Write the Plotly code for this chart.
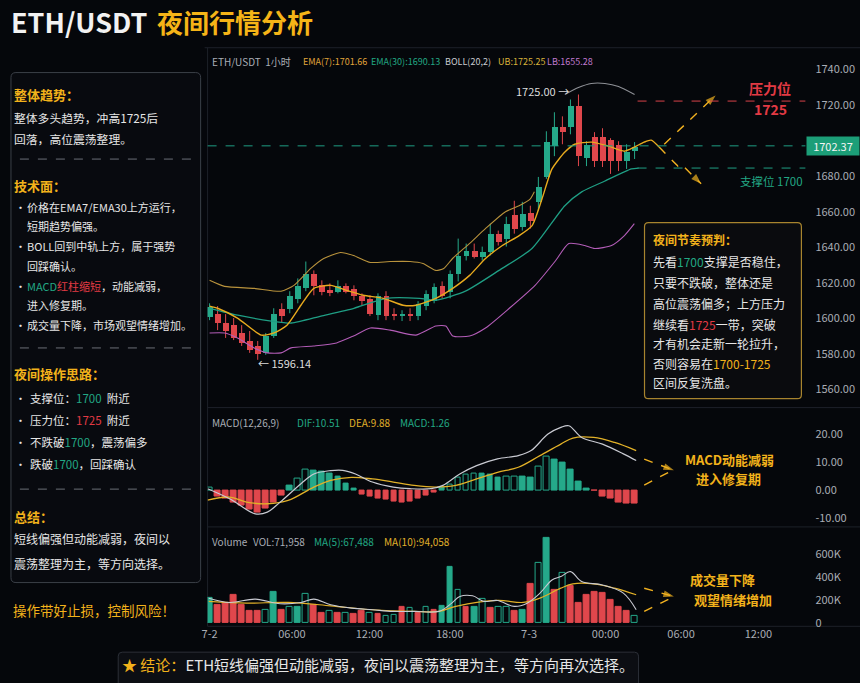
import plotly.graph_objects as go

W, H = 860, 683
BG = "#05070b"
GREEN = "#25a98a"
RED = "#e0474c"
GOLD = "#f2b21b"
TEAL_T = "#22a884"
RED_T = "#e23a44"
GRAY_T = "#a9adb5"
WHITE_T = "#e6e6e6"
FONT = "Noto Sans CJK SC, Noto Sans, sans-serif"

# ---------------- data ----------------
candle_idx = list(range(54))
candle_open = [1600.7, 1602.9, 1597.4, 1596.2, 1591.8, 1587.3, 1584.5, 1580.6, 1590.1, 1605.7,
               1605.7, 1611.3, 1617.5, 1625.3, 1619.2, 1616.4, 1615.3, 1618.6, 1616.9, 1612.5,
               1611.3, 1601.8, 1613.0, 1602.9, 1601.3, 1602.9, 1601.3, 1606.9, 1610.2, 1618.6,
               1615.3, 1625.3, 1635.4, 1638.2, 1634.8, 1637.6, 1647.7, 1644.9, 1658.3, 1651.6,
               1659.4, 1665.6, 1679.6, 1696.9, 1707.6, 1707.6, 1719.9, 1690.2, 1702.0, 1702.5,
               1700.3, 1697.5, 1688.5, 1694.1]
candle_high = [1608.5, 1606.9, 1602.4, 1600.2, 1596.2, 1592.9, 1587.3, 1591.8, 1605.7, 1608.5,
               1615.3, 1622.5, 1632.0, 1627.0, 1621.4, 1619.7, 1621.4, 1619.7, 1618.6, 1614.1,
               1613.0, 1614.1, 1615.3, 1605.7, 1604.6, 1605.7, 1609.7, 1615.8, 1619.7, 1620.8,
               1627.0, 1644.9, 1642.1, 1642.1, 1640.4, 1653.3, 1649.4, 1657.2, 1666.2, 1665.6,
               1663.4, 1679.6, 1705.3, 1716.0, 1713.7, 1723.2, 1726.0, 1699.7, 1704.8, 1707.0,
               1701.4, 1699.7, 1698.0, 1699.2]
candle_low = [1599.0, 1593.4, 1589.0, 1587.8, 1584.5, 1580.6, 1576.7, 1579.5, 1589.0, 1597.4,
              1602.9, 1608.5, 1615.3, 1613.0, 1613.0, 1612.5, 1614.1, 1614.1, 1610.2, 1607.4,
              1601.3, 1599.0, 1599.0, 1599.0, 1598.5, 1598.5, 1599.0, 1604.6, 1608.5, 1611.3,
              1611.3, 1620.8, 1632.6, 1633.7, 1632.6, 1635.4, 1641.0, 1640.4, 1647.7, 1649.4,
              1650.5, 1660.6, 1678.5, 1691.3, 1698.0, 1703.6, 1685.7, 1685.7, 1685.2, 1685.2,
              1681.3, 1682.9, 1684.1, 1689.7]
candle_close = [1606.3, 1597.4, 1592.9, 1589.0, 1586.2, 1582.3, 1580.0, 1590.1, 1602.9, 1601.3,
                1612.5, 1618.6, 1625.3, 1618.6, 1615.3, 1614.7, 1618.6, 1615.3, 1612.5, 1609.7,
                1602.9, 1612.5, 1601.3, 1601.3, 1602.9, 1601.3, 1608.5, 1614.1, 1618.0, 1613.0,
                1625.3, 1635.4, 1638.2, 1634.8, 1637.6, 1647.7, 1643.2, 1653.3, 1650.5, 1658.9,
                1655.0, 1674.0, 1699.2, 1707.6, 1705.3, 1719.9, 1691.3, 1697.5, 1688.5, 1688.5,
                1688.5, 1688.5, 1693.6, 1696.4]

ema7_x = [0, 0.99, 3.47, 6.44, 8.04, 9.65, 11.39, 13.0, 15.1, 17.08, 19.18, 21.66, 24.13, 25.74,
          28.22, 30.32, 32.43, 34.41, 36.51, 38.61, 40.22, 41.46, 42.70, 44.31, 45.54, 47.65,
          49.75, 51.73, 52.97, 54.2, 55.07, 56.06]
ema7_y = [1606.9, 1605.7, 1600.2, 1590.6, 1591.8, 1596.2, 1607.4, 1616.9, 1618.6, 1615.8, 1613.0,
          1611.3, 1607.4, 1607.4, 1611.3, 1616.9, 1624.2, 1633.7, 1641.0, 1646.6, 1652.2, 1667.3,
          1684.1, 1693.6, 1698.0, 1699.2, 1696.9, 1694.1, 1696.4, 1699.2, 1700.3, 1696.4]

ema30_x = [0, 3.5, 7.7, 10.2, 13.9, 18.0, 22.0, 26.2, 28.2, 31.9, 36.1, 40.2, 44.3, 46.4, 49.3, 52.6, 53.5]
ema30_y = [1605.7, 1601.8, 1598.5, 1597.4, 1601.3, 1605.7, 1611.3, 1611.3, 1610.2, 1615.3, 1627.0,
           1639.3, 1663.4, 1671.2, 1677.3, 1684.1, 1684.6]

ub_x = [0, 1.86, 5.57, 8.91, 10.52, 12.62, 14.23, 16.34, 17.95, 20.05, 22.52, 25.0, 26.61, 28.22,
        29.2, 30.3, 32.4, 34.4, 36.9, 38.6, 40.0, 40.5]
ub_y = [1621.4, 1618.0, 1616.9, 1615.3, 1618.6, 1628.1, 1633.7, 1637.1, 1635.4, 1631.5, 1632.0,
        1632.0, 1630.9, 1627.0, 1628.1, 1633.7, 1642.1, 1650.5, 1660.0, 1663.4, 1667.3, 1671.2]
ub_top_x = [44.3, 46.0, 47.6, 49.3, 51.0, 53.0]
ub_top_y = [1726.0, 1729.9, 1732.2, 1732.2, 1730.5, 1726.0]

lb_x = [0, 1.86, 3.47, 5.57, 7.18, 8.91, 10.15, 13.0, 15.84, 17.95, 20.05, 22.52, 25.74, 28.22,
        29.46, 30.32, 32.43, 34.41, 37.38, 40.59, 43.07, 44.8, 46.78, 48.02, 50.12, 51.73, 52.97]
lb_y = [1591.8, 1591.8, 1589.0, 1583.4, 1580.6, 1580.6, 1583.4, 1584.5, 1586.2, 1590.1, 1594.6,
        1593.4, 1590.6, 1595.7, 1595.7, 1590.1, 1590.1, 1594.6, 1605.7, 1618.6, 1632.0, 1642.1,
        1641.0, 1639.3, 1641.0, 1646.6, 1653.3]

# forecast path (price panel)
up_path_x = [56.7, 63.1]
up_path_y = [1698.0, 1725.5]
down_path_x = [56.06, 58.4, 58.8, 61.3]
down_path_y = [1696.4, 1685.7, 1686.9, 1675.7]

# key levels (as placed on the picture)
last_price_level = 1697.1
last_price_text = "1702.37"
resistance_level = 1722.3
support_level = 1684.6

macd_hist = [1.0, -2.4, -3.0, -4.5, -5.5, -7.0, -8.0, -6.5, -4.5, -2.0,
             1.5, 4.0, 7.5, 7.0, 6.5, 6.0, 5.0, 2.5, 0.5, -1.5,
             -2.5, -3.0, -3.5, -4.0, -4.5, -4.0, -3.0, -2.0, -0.8, 0.8,
             2.0, 4.5, 5.5, 6.0, 6.0, 5.5, 4.5, 4.8, 5.0, 5.0,
             4.5, 8.5, 12.0, 11.0, 10.0, 7.5, 3.0, 0.5, -0.3, -2.5,
             -3.0, -4.5, -5.0, -5.0]
dif_x = [-0.25, 2.5, 5.7, 7.2, 8.8, 11.4, 13.0, 15.1, 16.6, 18.2, 20.3, 22.9, 25.0, 27.6, 29.1,
         31.2, 33.3, 35.9, 38.5, 40.1, 42.2, 43.8, 44.8, 46.4, 49.0, 51.6, 53.2]
dif_y = [0.5, -3.1, -8.5, -7.9, -4.3, 2.3, 5.8, 7.0, 7.1, 5.8, 2.9, 1.1, 0.5, 0.5, 1.7,
         5.8, 8.8, 11.2, 12.4, 14.2, 20.1, 22.5, 23.1, 18.9, 16.5, 13.0, 10.6]
dea_x = [-0.25, 2.5, 4.6, 7.2, 9.8, 13.0, 15.1, 17.7, 20.3, 22.9, 25.5, 28.1, 30.7, 33.3, 35.9,
         38.5, 41.2, 43.8, 45.3, 47.9, 50.5, 53.2]
dea_y = [-3.6, -2.5, -4.3, -4.9, -3.7, 1.1, 3.5, 4.6, 4.0, 2.9, 1.7, 1.1, 1.7, 4.0, 6.4,
         8.2, 12.4, 16.5, 18.7, 18.9, 17.1, 14.2]

vol_k = [223, 160, 174, 246, 160, 103, 103, 117, 274, 117,
         146, 146, 255, 160, 94, 103, 89, 89, 83, 103,
         89, 83, 66, 74, 146, 131, 89, 146, 117, 154,
         483, 289, 146, 146, 209, 131, 146, 146, 111, 117,
         340, 523, 737, 289, 431, 323, 180, 246, 274, 260,
         203, 146, 103, 66]
vol_up = [1, 0, 0, 0, 0, 0, 0, 1, 1, 0,
          1, 1, 1, 0, 0, 1, 0, 1, 0, 0,
          1, 0, 1, 1, 0, 1, 0, 1, 0, 1,
          1, 1, 0, 1, 1, 0, 1, 1, 0, 1,
          0, 1, 1, 0, 1, 0, 0, 0, 0, 0,
          0, 0, 0, 1]
vol_hollow = [0, 0, 0, 0, 0, 0, 0, 1, 0, 0,
              1, 0, 1, 0, 0, 1, 0, 1, 0, 0,
              1, 0, 1, 1, 0, 1, 0, 1, 0, 0,
              0, 1, 0, 0, 1, 0, 1, 1, 0, 0,
              0, 1, 0, 0, 1, 0, 0, 0, 0, 0,
              0, 0, 0, 1]
ma5_x = [-0.1, 2.5, 5.7, 8.8, 11.4, 13.0, 15.1, 17.7, 20.3, 22.9, 25.5, 28.6, 30.2, 31.2, 32.8,
         34.2, 35.9, 38.0, 39.6, 41.2, 42.7, 43.8, 45.0, 46.4, 49.0, 51.6, 53.2]
ma5_y = [217, 180, 209, 169, 180, 209, 160, 131, 117, 103, 103, 103, 174, 231, 237,
         189, 197, 146, 174, 260, 374, 403, 446, 360, 331, 260, 117]
ma10_x = [-0.1, 4.6, 9.8, 15.1, 20.3, 25.5, 28.6, 30.7, 35.9, 39.1, 41.2, 43.8, 45.3, 47.9, 50.5, 53.2]
ma10_y = [189, 174, 180, 151, 117, 103, 103, 146, 197, 180, 217, 303, 340, 340, 303, 246]

macd_arrow_top = ([54.2, 57.9], [11.1, 7.1])
macd_arrow_bot = ([54.2, 57.5], [1.8, 6.8])
vol_arrow_top = ([54.2, 57.9], [302, 231])
vol_arrow_bot = ([54.2, 57.5], [103, 217])

time_tick_pos = [0, 10.27, 19.93, 29.95, 39.85, 49.38, 58.79, 68.44]
time_tick_text = ["7-2", "06:00", "12:00", "18:00", "7-3", "00:00", "06:00", "12:00"]
price_ticks = [1560, 1580, 1600, 1620, 1640, 1660, 1680, 1720, 1740]
macd_ticks = [-10, 0, 10, 20]
vol_ticks = [0, 200, 400, 600]
vol_tick_text = ["0", "200K", "400K", "600K"]


def X(x):
    return x / W


def Y(y):
    return 1 - y / H


def rrect(x0, y0, x1, y1, r):
    return (f"M {X(x0 + r)},{Y(y0)} L {X(x1 - r)},{Y(y0)} Q {X(x1)},{Y(y0)} {X(x1)},{Y(y0 + r)} "
            f"L {X(x1)},{Y(y1 - r)} Q {X(x1)},{Y(y1)} {X(x1 - r)},{Y(y1)} "
            f"L {X(x0 + r)},{Y(y1)} Q {X(x0)},{Y(y1)} {X(x0)},{Y(y1 - r)} "
            f"L {X(x0)},{Y(y0 + r)} Q {X(x0)},{Y(y0)} {X(x0 + r)},{Y(y0)} Z")


fig = go.Figure()

# ---- price panel: candles drawn as wick lines + body bars ----
for up, col in [(True, GREEN), (False, RED)]:
    wx, wy, bx, bb, bh = [], [], [], [], []
    for i, o, h, l, c in zip(candle_idx, candle_open, candle_high, candle_low, candle_close):
        if (c >= o) != up:
            continue
        wx += [i, i, None]
        wy += [l, h, None]
        bx.append(i)
        bb.append(min(o, c))
        bh.append(max(abs(c - o), 0.5))
    fig.add_trace(go.Scatter(x=wx, y=wy, mode="lines", line=dict(color=col, width=1),
                             showlegend=False, hoverinfo="skip", xaxis="x", yaxis="y"))
    fig.add_trace(go.Bar(x=bx, y=bh, base=bb, width=0.72, marker=dict(color=col, line=dict(width=0)),
                         showlegend=False, hoverinfo="skip", xaxis="x", yaxis="y"))

for xs, ys, col, wd in [(ub_x, ub_y, "#b8923c", 1.1), (ub_top_x, ub_top_y, "#8e9096", 1.1),
                        (lb_x, lb_y, "#b45db8", 1.1), (ema30_x, ema30_y, "#1f9e84", 1.3),
                        (ema7_x, ema7_y, "#e8aa1e", 1.4)]:
    fig.add_trace(go.Scatter(x=xs, y=ys, mode="lines", line=dict(color=col, width=wd, shape="spline", smoothing=0.6),
                             showlegend=False, hoverinfo="skip", xaxis="x", yaxis="y"))


def dashed_arrow(xs, ys, xa, ya, head=True, col="#f0b020"):
    fig.add_trace(go.Scatter(x=xs, y=ys, mode="lines", line=dict(color=col, width=1.4, dash="dash"),
                             showlegend=False, hoverinfo="skip", xaxis=xa, yaxis=ya))
    if head:
        fig.add_trace(go.Scatter(x=xs[-2:], y=ys[-2:], mode="markers",
                                 marker=dict(symbol="arrow", angleref="previous", size=[0, 11], color=col,
                                             line=dict(width=0)),
                                 showlegend=False, hoverinfo="skip", xaxis=xa, yaxis=ya))


dashed_arrow(up_path_x, up_path_y, "x", "y")
dashed_arrow(down_path_x, down_path_y, "x", "y")

# ---- MACD panel ----
macd_fill, macd_line = [], []
for i, v in enumerate(macd_hist):
    c = GREEN if v >= 0 else RED
    prev = abs(macd_hist[i - 1]) if i > 0 else 0
    hollow = abs(v) > prev and v > 0
    macd_fill.append(BG if hollow else c)
    macd_line.append(c)
fig.add_trace(go.Bar(x=candle_idx, y=macd_hist, width=0.7,
                     marker=dict(color=macd_fill, line=dict(color=macd_line, width=1)),
                     showlegend=False, hoverinfo="skip", xaxis="x2", yaxis="y2"))
fig.add_trace(go.Scatter(x=dea_x, y=dea_y, mode="lines", line=dict(color="#e2b128", width=1.3, shape="spline"),
                         showlegend=False, hoverinfo="skip", xaxis="x2", yaxis="y2"))
fig.add_trace(go.Scatter(x=dif_x, y=dif_y, mode="lines", line=dict(color="#c9cad2", width=1.2, shape="spline"),
                         showlegend=False, hoverinfo="skip", xaxis="x2", yaxis="y2"))
dashed_arrow(*macd_arrow_top, "x2", "y2")
dashed_arrow(*macd_arrow_bot, "x2", "y2", head=False)

# ---- Volume panel ----
vfill, vline = [], []
for up, ho in zip(vol_up, vol_hollow):
    c = GREEN if up else RED
    vline.append(c)
    vfill.append(BG if ho else c)
fig.add_trace(go.Bar(x=candle_idx, y=vol_k, width=0.72,
                     marker=dict(color=vfill, line=dict(color=vline, width=1)),
                     showlegend=False, hoverinfo="skip", xaxis="x3", yaxis="y3"))
fig.add_trace(go.Scatter(x=ma10_x, y=ma10_y, mode="lines", line=dict(color="#e2b128", width=1.2, shape="spline"),
                         showlegend=False, hoverinfo="skip", xaxis="x3", yaxis="y3"))
fig.add_trace(go.Scatter(x=ma5_x, y=ma5_y, mode="lines", line=dict(color="#c9cad2", width=1.1, shape="spline"),
                         showlegend=False, hoverinfo="skip", xaxis="x3", yaxis="y3"))
dashed_arrow(*vol_arrow_top, "x3", "y3")
dashed_arrow(*vol_arrow_bot, "x3", "y3", head=False)

# ---------------- layout ----------------
xdom = [X(203), X(805)]
xr = [-0.25, 74.3]
axis_font = dict(family=FONT, size=11, color=GRAY_T)
common_x = dict(domain=xdom, range=xr, showgrid=False, zeroline=False, showline=False, fixedrange=True)
common_y = dict(side="right", showgrid=False, zeroline=False, showline=False, tickfont=axis_font,
                ticks="", ticklabelstandoff=9, fixedrange=True)

shapes = []
for (x0, y0, x1, y1) in [(200, 48, 860, 48), (203, 48, 203, 630), (203, 410, 860, 410),
                         (203, 530, 860, 530), (203, 630, 860, 630)]:
    shapes.append(dict(type="line", xref="paper", yref="paper", x0=X(x0), y0=Y(y0), x1=X(x1), y1=Y(y1),
                       line=dict(color="#1d2129", width=1), layer="below"))
shapes.append(dict(type="path", xref="paper", yref="paper", path=rrect(5, 73, 196, 586, 5),
                   line=dict(color="#3b4048", width=1), fillcolor="#080a0f", layer="below"))
for yy in [160, 350, 492]:
    shapes.append(dict(type="line", xref="paper", yref="paper", x0=X(14), x1=X(188), y0=Y(yy), y1=Y(yy),
                       line=dict(color="#6b6f77", width=1, dash="dash")))
shapes.append(dict(type="line", xref="paper", yref="y", x0=X(203), x1=X(805), y0=last_price_level,
                   y1=last_price_level, line=dict(color="#1f9e84", width=1, dash="dash")))
shapes.append(dict(type="line", xref="paper", yref="y", x0=X(636), x1=X(805), y0=resistance_level,
                   y1=resistance_level, line=dict(color="#d8434a", width=1, dash="dash")))
shapes.append(dict(type="line", xref="paper", yref="y", x0=X(636), x1=X(805), y0=support_level,
                   y1=support_level, line=dict(color="#1f9e84", width=1, dash="dash")))
shapes.append(dict(type="path", xref="paper", yref="paper", path=rrect(643, 224, 801, 401, 4),
                   line=dict(color="#a8842e", width=1.2), fillcolor="#0a0b0e", layer="above"))
shapes.append(dict(type="path", xref="paper", yref="paper", path=rrect(113, 656, 637, 695, 4),
                   line=dict(color="#2c3038", width=1), fillcolor="#0c0e13", layer="below"))

ann = []
SH = -7  # compensation for annotation inner padding on left-anchored text


def txt(x, y, text, size=11, color=WHITE_T, anchor="left", yref="paper", xref="paper", shift=None, family=FONT):
    d = dict(x=X(x) if xref == "paper" else x, y=Y(y) if yref == "paper" else y, xref=xref, yref=yref,
             text=text, showarrow=False, xanchor=anchor, yanchor="middle", borderpad=0,
             font=dict(family=family, size=size, color=color))
    if shift is None:
        shift = SH if anchor == "left" and xref == "paper" else 0
    d["xshift"] = shift
    ann.append(d)


# title
txt(13, 22, "<b>ETH/USDT</b>", 27, "#f2f2f2", shift=-9)
txt(160, 22, "<b>夜间行情分析</b>", 26, "#f5b417", shift=-9)

# panel headers
for x, t, c, s in [(213, "ETH/USDT  1小时", GRAY_T, 10), (305, "EMA(7):1701.66", "#e0a53a", 9),
                   (374, "EMA(30):1690.13", TEAL_T, 9), (448, "BOLL(20,2)", "#c9cbd0", 9),
                   (501, "UB:1725.25", "#d9b23a", 9), (551, "LB:1655.28", "#c07ad0", 9)]:
    txt(x, 62, t, s, c)
for x, t, c in [(213, "MACD(12,26,9)", GRAY_T), (299, "DIF:10.51", TEAL_T),
                (351, "DEA:9.88", "#e0b02a"), (403, "MACD:1.26", TEAL_T)]:
    txt(x, 425, t, 10, c)
for x, t, c in [(213, "Volume", GRAY_T), (255, "VOL:71,958", GRAY_T),
                (316, "MA(5):67,488", TEAL_T), (387, "MA(10):94,058", "#e0b02a")]:
    txt(x, 545, t, 10, c)

# price annotations
txt(45.0, 1727.7, "1725.00 →", 11, "#dcdcdc", anchor="right", xref="x", yref="y")
txt(5.9, 1575.0, "← 1596.14", 11, "#dcdcdc", anchor="left", xref="x", yref="y")
txt(769, 89, "<b>压力位</b>", 14, RED_T, anchor="center")
txt(770, 110, "<b>1725</b>", 14, RED_T, anchor="center")
txt(804, 182, "支撑位 1700", 11.5, TEAL_T, anchor="right")
ann.append(dict(x=X(833), y=last_price_level, xref="paper", yref="y", text=last_price_text, showarrow=False,
                xanchor="center", yanchor="middle", bgcolor="#1c9e78", width=50, height=16,
                font=dict(family=FONT, size=11, color="#f4f4f4")))

# forecast box text
box_lines = [
    (241, "<b>夜间节奏预判：</b>", GOLD),
    (263, f"先看<span style='color:{TEAL_T}'>1700</span>支撑是否稳住，", WHITE_T),
    (284, "只要不跌破，整体还是", WHITE_T),
    (305, "高位震荡偏多；上方压力", WHITE_T),
    (326, f"继续看<span style='color:{RED_T}'>1725</span>一带，突破", WHITE_T),
    (346, "才有机会走新一轮拉升，", WHITE_T),
    (366, f"否则容易在<span style='color:{GOLD}'>1700-1725</span>", WHITE_T),
    (385, "区间反复洗盘。", WHITE_T),
]
for y, t, c in box_lines:
    txt(654, y, t, 12, c, shift=-3)

# MACD / volume side notes
txt(729, 462, "<b>MACD动能减弱</b>", 13, GOLD, anchor="center")
txt(728, 481, "<b>进入修复期</b>", 13, GOLD, anchor="center")
txt(722, 583, "<b>成交量下降</b>", 13, GOLD, anchor="center")
txt(732, 603, "<b>观望情绪增加</b>", 13, GOLD, anchor="center")

# left panel text
txt(14, 95, "<b>整体趋势：</b>", 13, GOLD)
txt(14, 118, "整体多头趋势，冲高1725后", 11.8, WHITE_T)
txt(14, 139, "回落，高位震荡整理。", 11.8, WHITE_T)
txt(14, 187, "<b>技术面：</b>", 13, GOLD)
bul1 = [
    (208, "价格在EMA7/EMA30上方运行，", True),
    (227, "短期趋势偏强。", False),
    (247, "BOLL回到中轨上方，属于强势", True),
    (268, "回踩确认。", False),
    (288, f"<span style='color:{TEAL_T}'>MACD</span><span style='color:{RED_T}'>红柱缩短</span>，动能减弱，", True),
    (307, "进入修复期。", False),
    (327, "成交量下降，市场观望情绪增加。", True),
]
for y, t, b in bul1:
    if b:
        txt(15, y, "•", 11, WHITE_T)
    txt(27, y, t, 11, WHITE_T)
txt(14, 376, "<b>夜间操作思路：</b>", 13, GOLD)
bul2 = [
    (400, f"支撑位：<span style='color:{TEAL_T}'>1700</span>&nbsp;&nbsp;附近"),
    (422, f"压力位：<span style='color:{RED_T}'>1725</span>&nbsp;&nbsp;附近"),
    (445, f"不跌破<span style='color:{TEAL_T}'>1700</span>，震荡偏多"),
    (467, f"跌破<span style='color:{TEAL_T}'>1700</span>，回踩确认"),
]
for y, t in bul2:
    txt(15, y, "•", 11, WHITE_T)
    txt(30, y, t, 11.5, WHITE_T)
txt(14, 520, "<b>总结：</b>", 13, GOLD)
txt(14, 542, "短线偏强但动能减弱，夜间以", 12, WHITE_T)
txt(14, 567, "震荡整理为主，等方向选择。", 12, WHITE_T)
txt(13, 614, "操作带好止损，控制风险！", 13.5, GOLD)

# bottom conclusion
txt(375, 668, f"<span style='color:{GOLD}'>★ 结论：</span>ETH短线偏强但动能减弱，夜间以震荡整理为主，等方向再次选择。",
    15, WHITE_T, anchor="center")

fig.update_layout(
    width=W, height=H, margin=dict(l=0, r=0, t=0, b=0),
    paper_bgcolor=BG, plot_bgcolor=BG, showlegend=False, hovermode=False,
    barmode="overlay",
    xaxis=dict(**common_x, anchor="y", showticklabels=False, rangeslider=dict(visible=False)),
    xaxis2=dict(**common_x, anchor="y2", matches="x", showticklabels=False),
    xaxis3=dict(**common_x, anchor="y3", matches="x", tickvals=time_tick_pos, ticktext=time_tick_text,
                tickfont=axis_font, ticks=""),
    yaxis=dict(**common_y, domain=[Y(410), Y(50)], range=[1549.8, 1751.2], anchor="x",
               tickvals=price_ticks, ticktext=[f"{v:.2f}" for v in price_ticks]),
    yaxis2=dict(**common_y, domain=[Y(530), Y(412)], range=[-13.2, 28.9], anchor="x2",
                tickvals=macd_ticks, ticktext=[f"{v:.2f}" for v in macd_ticks]),
    yaxis3=dict(**common_y, domain=[Y(630), Y(532)], range=[-25.7, 814], anchor="x3",
                tickvals=vol_ticks, ticktext=vol_tick_text),
    shapes=shapes, annotations=ann, bargap=0,
)

fig.write_html("out.html")
